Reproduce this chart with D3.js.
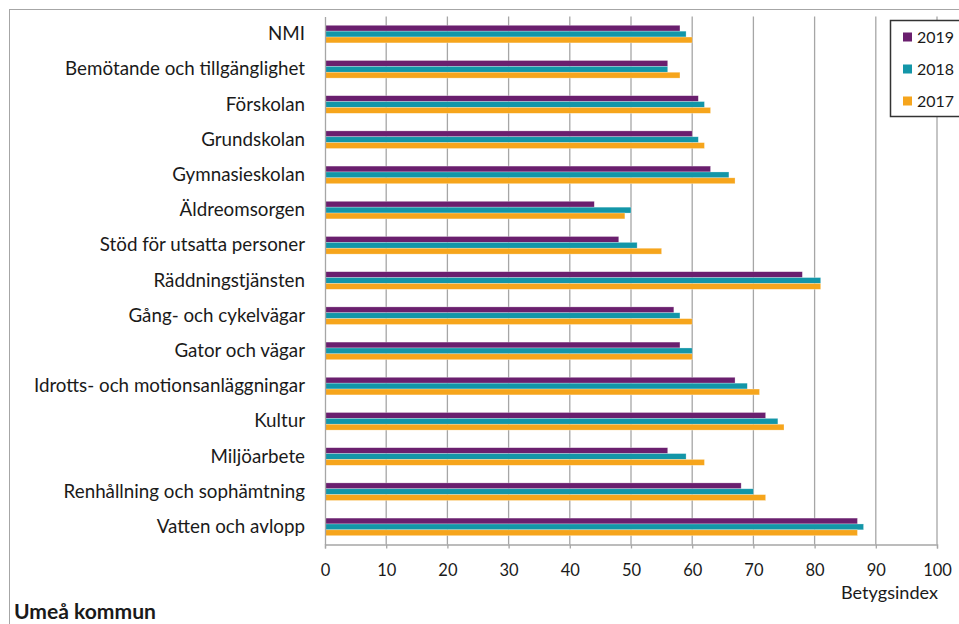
<!DOCTYPE html>
<html>
<head>
<meta charset="utf-8">
<script src="https://cdn.jsdelivr.net/npm/d3@7"></script>
<style>
  body { margin: 0; background: #fff; }
  svg { display: block; }
  text { font-family: Lato, "Open Sans", sans-serif; fill: #1a1a1a; }
</style>
</head>
<body>
<svg id="chart" width="959" height="624"></svg>
<script>
const categories = [
  "NMI",
  "Bemötande och tillgänglighet",
  "Förskolan",
  "Grundskolan",
  "Gymnasieskolan",
  "Äldreomsorgen",
  "Stöd för utsatta personer",
  "Räddningstjänsten",
  "Gång- och cykelvägar",
  "Gator och vägar",
  "Idrotts- och motionsanläggningar",
  "Kultur",
  "Miljöarbete",
  "Renhållning och sophämtning",
  "Vatten och avlopp"
];
const years = ["2019", "2018", "2017"];
const values2019 = [58, 56, 61, 60, 63, 44, 48, 78, 57, 58, 67, 72, 56, 68, 87];
const values2018 = [59, 56, 62, 61, 66, 50, 51, 81, 58, 60, 69, 74, 59, 70, 88];
const values2017 = [60, 58, 63, 62, 67, 49, 55, 81, 60, 60, 71, 75, 62, 72, 87];
const xTicks = [0, 10, 20, 30, 40, 50, 60, 70, 80, 90, 100];
const colors = ["#6a1f6e", "#1396a8", "#f6a51c"];
const seriesValues = [values2019, values2018, values2017];

const svg = d3.select("#chart");
const mLeft = 325, mRight = 937, mTop = 16.5, mBottom = 544.5;

// scale a text element's font size so its width matches a target width
function fit(sel, target) {
  const n = sel.node();
  const fs = parseFloat(sel.attr("font-size"));
  const w = n.getComputedTextLength();
  if (w > 0) sel.attr("font-size", (fs * target / w).toFixed(2));
}

// outer frame
svg.append("rect").attr("x", 9.5).attr("y", 9.5).attr("width", 1000).attr("height", 700)
  .attr("fill", "none").attr("stroke", "#a6a6a6").attr("stroke-width", 1);

const x = d3.scaleLinear().domain([0, 100]).range([mLeft, mRight]);
const y = d3.scaleBand().domain(categories).range([mTop, mBottom]).paddingInner(0).paddingOuter(0);
const sub = d3.scaleBand().domain(years).range([0, y.bandwidth() * 0.5]);
const groupOffset = y.bandwidth() * 0.25;

// gridlines
svg.append("g").selectAll("line").data(xTicks.filter(d => d > 0)).join("line")
  .attr("x1", d => x(d)).attr("x2", d => x(d))
  .attr("y1", mTop).attr("y2", mBottom)
  .attr("stroke", "#a6a6a6").attr("stroke-width", 1.3);

// bars
const rows = categories.map((c, i) => ({ c, vals: seriesValues.map(s => s[i]) }));
const g = svg.append("g");
years.forEach((yr, k) => {
  g.selectAll(null).data(rows).join("rect")
    .attr("x", x(0))
    .attr("y", d => y(d.c) + groupOffset + sub(yr))
    .attr("width", d => x(d.vals[k]) - x(0))
    .attr("height", sub.bandwidth())
    .attr("fill", colors[k])
    .attr("stroke", "#ffffff").attr("stroke-opacity", 0.45).attr("stroke-width", 0.6);
});

// x axis
const xAxis = d3.axisBottom(x).tickValues(xTicks).tickSize(4).tickPadding(0);
const ax = svg.append("g").attr("transform", `translate(0,${mBottom})`).call(xAxis);
ax.select(".domain").attr("stroke", "#a6a6a6").attr("stroke-width", 1.3);
ax.selectAll(".tick line").attr("stroke", "#a6a6a6").attr("stroke-width", 1.3);
ax.selectAll(".tick text").attr("font-size", 16.5).attr("fill", "#1a1a1a")
  .attr("y", 26).attr("dy", "0.35em")
  .style("font-family", "Lato, sans-serif");

// y axis
const yAxis = d3.axisLeft(y).tickSize(0).tickPadding(20);
const ay = svg.append("g").attr("transform", `translate(${mLeft},0)`).call(yAxis);
ay.select(".domain").attr("stroke", "#a6a6a6").attr("stroke-width", 1.3);
ay.selectAll(".tick text").attr("font-size", 15).attr("fill", "#1a1a1a")
  .style("font-family", "Lato, sans-serif");
// match label widths to reference ("Bemötande och tillgänglighet")
const probe = ay.selectAll(".tick text").filter(d => d === categories[1]);
fit(probe, 240);
ay.selectAll(".tick text").attr("font-size", probe.attr("font-size"));

// axis title
const bt = svg.append("text").attr("x", 938).attr("y", 599).attr("text-anchor", "end")
  .attr("font-size", 14.5).text("Betygsindex");
fit(bt, 97);

// footer
const ft = svg.append("text").attr("x", 14).attr("y", 619).attr("font-size", 14)
  .attr("font-weight", "bold").text("Umeå kommun");
fit(ft, 142);

// legend
const lg = svg.append("g");
lg.append("rect").attr("x", 890.5).attr("y", 20.5).attr("width", 80).attr("height", 96)
  .attr("fill", "#fff").attr("stroke", "#333").attr("stroke-width", 1.5);
years.forEach((yr, k) => {
  const cy = 37 + k * 32;
  lg.append("rect").attr("x", 903).attr("y", cy - 4.5).attr("width", 9).attr("height", 9)
    .attr("fill", colors[k]);
  const t = lg.append("text").attr("x", 917).attr("y", cy).attr("dy", "0.35em")
    .attr("font-size", 15).text(yr);
  fit(t, 37);
});
</script>
</body>
</html>
